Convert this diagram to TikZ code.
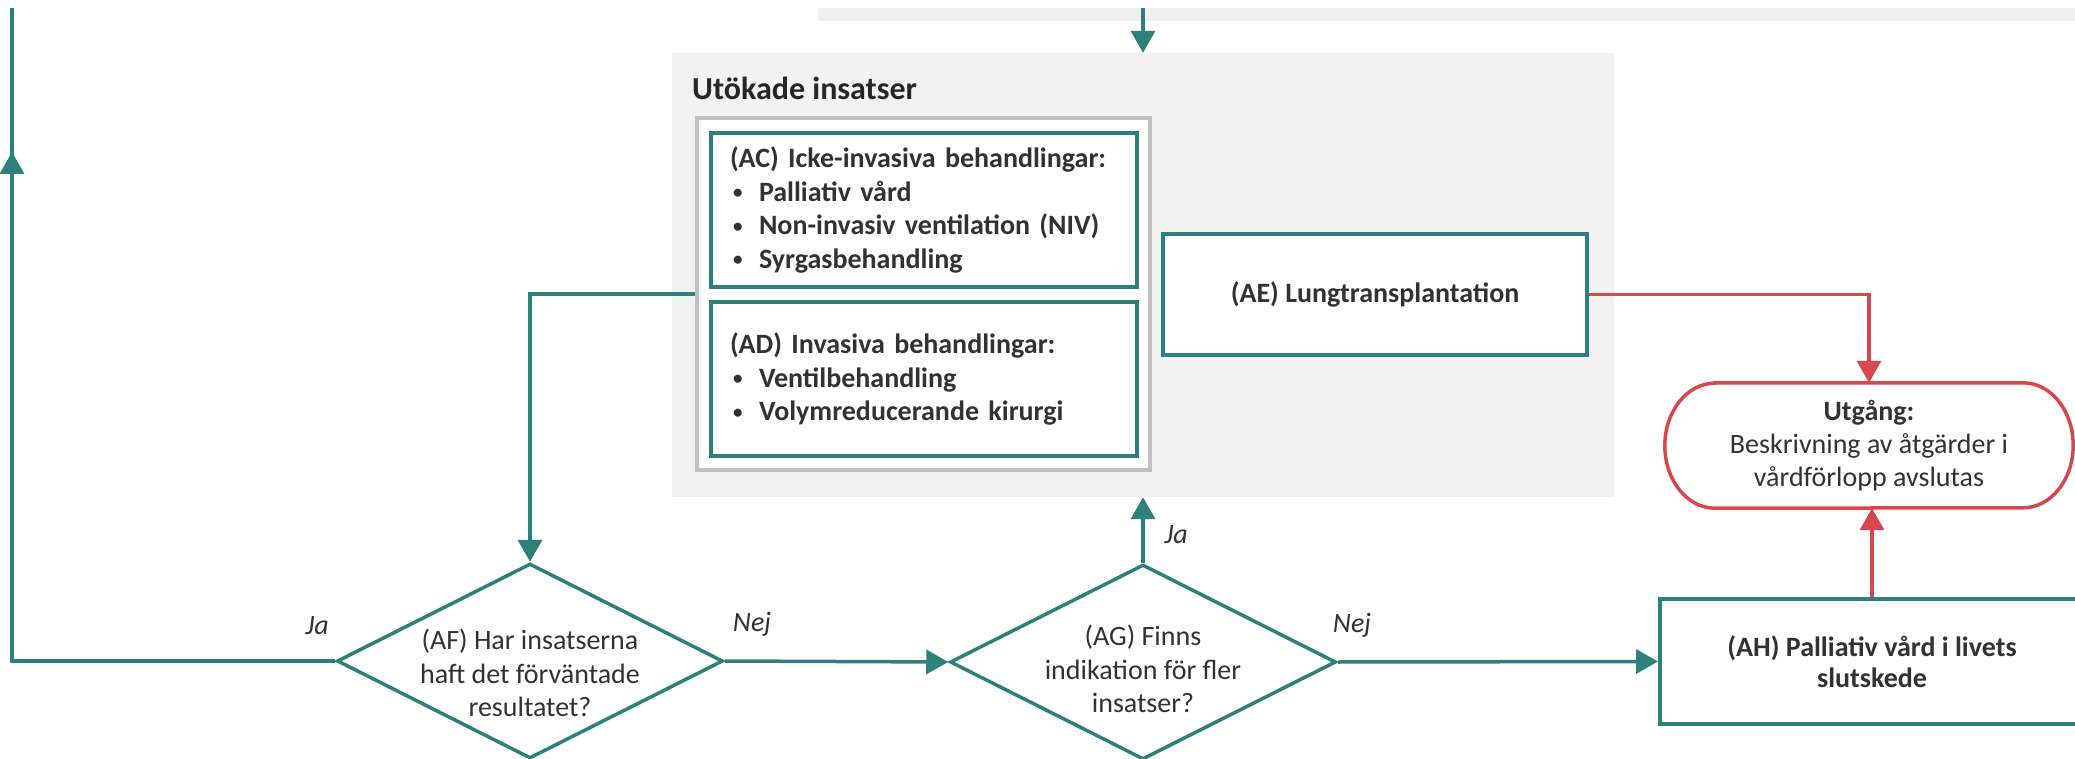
\documentclass[tikz,border=0pt]{standalone}
\usepackage{fontspec}
\setmainfont{Carlito}
\usetikzlibrary{shapes.geometric,arrows.meta}

\definecolor{flowteal}{RGB}{46,128,122}
\definecolor{exitred}{RGB}{214,72,78}
\definecolor{panelgrey}{RGB}{242,242,242}
\definecolor{bandgrey}{RGB}{240,240,240}
\definecolor{frame}{RGB}{192,192,192}
\definecolor{ink}{RGB}{50,50,50}

\newcommand\flowfont{\fontsize{28pt}{33.5pt}\selectfont}
\newcommand\blt{\makebox[29pt][l]{\hspace{3pt}\raisebox{2.5pt}{\fontsize{19pt}{19pt}\selectfont •}}}

\begin{document}
\begin{tikzpicture}[x=1pt,y=-1pt,
  every node/.style={text=ink, font=\flowfont},
  tealline/.style={draw=flowteal, line width=3.5pt},
  conn/.style={tealline, -{Triangle[width=24pt,length=22pt]}},
  redconn/.style={draw=exitred, line width=3.5pt, -{Triangle[width=24pt,length=22pt]}},
  box/.style={rectangle, draw=flowteal, line width=4pt, fill=white, inner sep=0pt,
    font=\flowfont\bfseries},
  decision/.style={diamond, draw=flowteal, line width=3.5pt, fill=white,
    minimum width=386pt, minimum height=195pt, inner sep=0pt},
  dtext/.style={align=center, inner sep=0pt},
  answer/.style={font=\flowfont\itshape, inner sep=0pt}
]
\useasboundingbox (0,0) rectangle (2075,759);
\clip (0,0) rectangle (2075,759);

% background blocks
\node[fill=bandgrey, minimum width=1282pt, minimum height=13pt, inner sep=0pt] (topband) at (1459,14.5) {};
\node[fill=panelgrey, minimum width=942pt, minimum height=444pt, inner sep=0pt] (panel) at (1143,275) {};
\node[anchor=west, inner sep=0pt, text=black!85, font=\bfseries\fontsize{32pt}{38pt}\selectfont] (title) at (692,88) {Utökade insatser};

% grouped treatments
\node[rectangle, draw=frame, line width=4pt, fill=white, minimum width=453pt, minimum height=352pt, inner sep=0pt] (group) at (923.5,294) {};
\node[box, minimum width=426pt, minimum height=154pt, text width=388pt, inner xsep=19pt, align=left] (AC) at (924,210)
  {(AC) Icke-invasiva behandlingar:\\ \blt Palliativ vård\\ \blt Non-invasiv ventilation (NIV)\\ \blt Syrgasbehandling};
\node[box, minimum width=426pt, minimum height=154pt, text width=388pt, inner xsep=19pt, align=left] (AD) at (924,379)
  {(AD) Invasiva behandlingar:\\ \blt Ventilbehandling\\ \blt Volymreducerande kirurgi};

\node[box, minimum width=424pt, minimum height=121pt] (AE) at (1375,294.5) {(AE) Lungtransplantation};

% decisions
\node[decision] (AF) at (530,661) {};
\node[dtext] (AFt) at (530,673) {(AF) Har insatserna\\haft det förväntade\\resultatet?};
\node[decision] (AG) at (1143,662) {};
\node[dtext] (AGt) at (1143,669) {(AG) Finns\\indikation för fler\\insatser?};

% end of care
\node[box, minimum width=424pt, minimum height=125pt, align=center, font=\fontsize{28pt}{31pt}\selectfont\bfseries] (AH) at (1872,661.5)
  {(AH) Palliativ vård i livets\\slutskede};

% exit terminator
\node[minimum width=408pt, minimum height=125pt, inner sep=0pt, align=center, font=\fontsize{28pt}{33pt}\selectfont] (exit) at (1869,445.5)
  {\textbf{Utgång:}\\Beskrivning av åtgärder i\\vårdförlopp avslutas};
\draw[exitred, line width=3.5pt]
  ([xshift=50pt]exit.north west) -- ([xshift=-50pt]exit.north east)
  arc[start angle=90, end angle=-90, x radius=50pt, y radius=62.5pt]
  -- ([xshift=50pt]exit.south west)
  arc[start angle=270, end angle=90, x radius=50pt, y radius=62.5pt] -- cycle;

% connectors
\coordinate (looptop) at (12,8);
\coordinate (loopmid) at (12,152);
\draw[conn] (topband.north -| panel.north) -- (panel.north);
\draw[conn] (group.west) -| (AF.north);
\draw[tealline] (AF.west) -| (looptop);
\draw[conn] (AF.west -| looptop) -- (loopmid);
\draw[conn] (AF.east) -- (AG.west);
\draw[conn] (AG.north) -- (panel.south);
\draw[conn] (AG.east) -- (AH.west);
\draw[redconn] (AE.east) -| (exit.north);
\draw[redconn] (AH.north) -- (AH.north |- exit.south);

% answers
\node[answer] (jaF) at (317,626) {Ja};
\node[answer] (nejF) at (752,624) {Nej};
\node[answer] (jaG) at (1176,535) {Ja};
\node[answer] (nejG) at (1352,625) {Nej};
\end{tikzpicture}
\end{document}
